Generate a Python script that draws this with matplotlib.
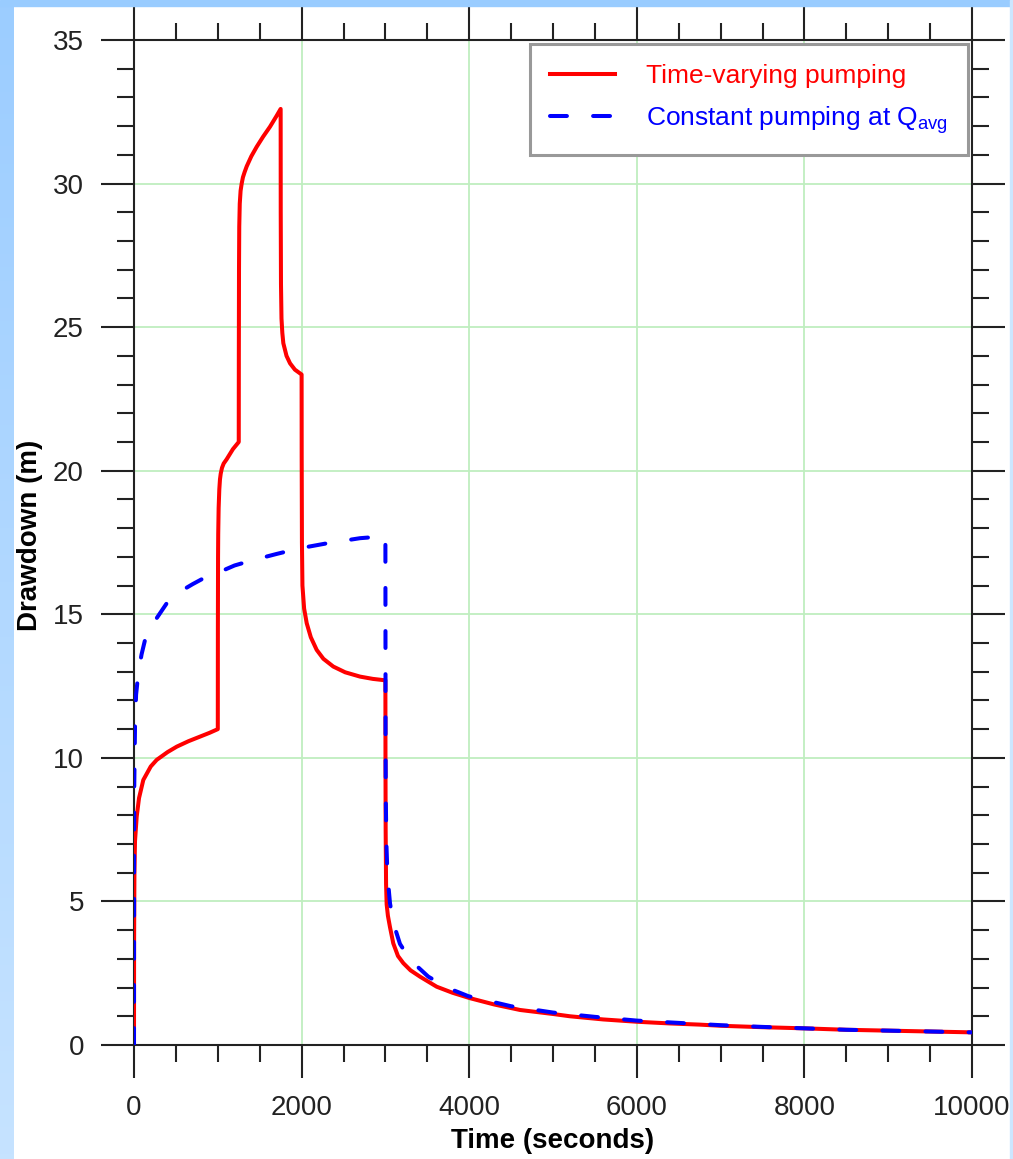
import numpy as np
import matplotlib
matplotlib.use("Agg")
import matplotlib.pyplot as plt
from matplotlib.ticker import MultipleLocator
from matplotlib.patches import Rectangle

plt.rcParams['font.family'] = ['Liberation Sans', 'DejaVu Sans']
plt.rcParams['mathtext.fontset'] = 'custom'
plt.rcParams['mathtext.rm'] = 'Liberation Sans'

# Drawdown (time in seconds, drawdown in m)
t_varying = [0, 1, 5, 12, 32, 60, 111, 200, 271, 400, 510, 650, 788, 900, 1000,
             1001, 1003, 1005, 1010, 1018, 1026, 1035, 1050, 1070, 1106, 1180, 1250,
             1251, 1253, 1256, 1262, 1272, 1285, 1300, 1320, 1345, 1400, 1464, 1540, 1623, 1700, 1750,
             1751, 1754, 1760, 1770, 1782, 1820, 1862, 1920, 2000,
             2001, 2004, 2010, 2030, 2061, 2110, 2180, 2260, 2378, 2520, 2697, 2850, 3000,
             3001, 3003, 3008, 3015, 3030, 3055, 3094, 3150, 3214, 3300, 3413, 3612,
             3800, 4010, 4300, 4606, 5000, 5203, 5600, 6000, 6400, 6750, 7000, 7500,
             8000, 8500, 9000, 9500, 10000]
s_varying = [0, 3.5, 6.0, 7.1, 7.95, 8.6, 9.23, 9.7, 9.93, 10.2, 10.39, 10.58, 10.74, 10.87, 11.0,
             14.5, 17.0, 17.8, 18.7, 19.35, 19.7, 19.9, 20.1, 20.25, 20.4, 20.75, 21.0,
             24.0, 27.0, 28.5, 29.3, 29.75, 30.0, 30.22, 30.4, 30.6, 30.95, 31.28, 31.63, 31.98, 32.35, 32.6,
             29.0, 26.5, 25.3, 24.8, 24.44, 24.0, 23.74, 23.52, 23.35,
             20.5, 17.5, 16.0, 15.2, 14.69, 14.2, 13.76, 13.45, 13.18, 12.98, 12.83, 12.75, 12.7,
             10.0, 7.5, 5.6, 4.9, 4.5, 4.1, 3.54, 3.1, 2.85, 2.6, 2.38, 2.03,
             1.82, 1.63, 1.41, 1.22, 1.08, 1.0, 0.89, 0.81, 0.75, 0.71, 0.67, 0.62,
             0.58, 0.53, 0.5, 0.47, 0.44]

t_constant = [0, 1, 3, 12, 25, 51, 90, 131, 230, 390, 549, 700, 827, 1026, 1200,
              1424, 1700, 1981, 2300, 2697, 3000,
              3002, 3005, 3012, 3025, 3055, 3100, 3174, 3300, 3512, 3750, 3990,
              4500, 5000, 5500, 6000, 6500, 7000, 7500, 8000, 8500, 9000, 9500, 10000]
s_constant = [0, 6.5, 9.0, 11.09, 12.2, 12.94, 13.6, 14.1, 14.69, 15.38, 15.79, 16.05, 16.25, 16.48, 16.7,
              16.89, 17.1, 17.3, 17.47, 17.65, 17.72,
              10.5, 8.5, 7.0, 5.9, 4.93, 4.2, 3.52, 2.95, 2.38, 1.98, 1.7,
              1.35, 1.13, 0.98, 0.85, 0.77, 0.69, 0.63, 0.58, 0.53, 0.5, 0.47, 0.44]

W, H = 1013, 1159
fig = plt.figure(figsize=(W / 100, H / 100), dpi=100)
fig.patch.set_facecolor('white')

# blue frame around the picture
fig.patches.append(Rectangle((0, 1 - 6 / H), 1, 6 / H, transform=fig.transFigure,
                             color='#99ccff', zorder=0))
fig.patches.append(Rectangle((1 - 3 / W, 0), 3 / W, 1, transform=fig.transFigure,
                             color='#cce6ff', zorder=0))
band = fig.add_axes([0, 0, 13 / W, 1 - 6 / H])
grad = np.linspace(0, 1, 256).reshape(-1, 1)
band.imshow(grad, aspect='auto', cmap=matplotlib.colors.LinearSegmentedColormap.from_list(
    'b', ['#9ccdff', '#c6e3ff']), extent=[0, 1, 0, 1])
band.axis('off')

ax = fig.add_axes([134 / W, 1 - 1045 / H, (972 - 134) / W, (1045 - 40) / H])
ax.plot(t_varying, s_varying, color='#ff0000', lw=2.9, solid_joinstyle='round',
        label='Time-varying pumping', zorder=3)
ax.plot(t_constant, s_constant, color='#0000ff', lw=2.9, dashes=(4.2, 6.5), dash_capstyle='round',
        label=r'Constant pumping at Q$_{\mathregular{avg}}$', zorder=4)

ax.set_xlim(0, 10000)
ax.set_ylim(0, 35)
ax.xaxis.set_major_locator(MultipleLocator(2000))
ax.xaxis.set_minor_locator(MultipleLocator(500))
ax.yaxis.set_major_locator(MultipleLocator(5))
ax.yaxis.set_minor_locator(MultipleLocator(1))
ax.grid(True, which='major', color='#bfeebf', lw=1.3, zorder=0)
ax.tick_params(which='both', direction='out', top=True, right=True, width=1.5,
               colors='#222222', labelsize=20, pad=12)
ax.tick_params(which='major', length=24)
ax.tick_params(which='minor', length=12.5)
for sp in ax.spines.values():
    sp.set_linewidth(1.5)
    sp.set_color('#222222')

ax.set_xlabel('Time (seconds)', fontsize=20, fontweight='bold')
ax.set_ylabel('Drawdown (m)', fontsize=20, fontweight='bold')
ax.xaxis.set_label_coords(0.5, -0.083)
ax.yaxis.set_label_coords(-0.109, 0.507)

leg = ax.legend(loc='upper right', fontsize=19, handlelength=2.45, handletextpad=1.2,
                labelspacing=0.6, borderaxespad=0.15, fancybox=False, framealpha=1,
                edgecolor='#999999', borderpad=0.75)
leg.get_frame().set_linewidth(2.2)
for txt, col in zip(leg.get_texts(), ['#ff0000', '#0000ff']):
    txt.set_color(col)

fig.savefig('out.png', dpi=100)
